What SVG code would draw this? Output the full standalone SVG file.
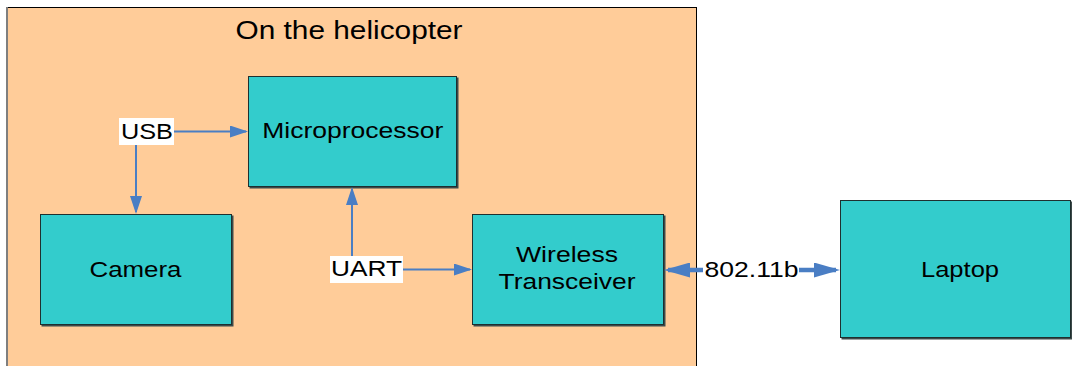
<svg xmlns="http://www.w3.org/2000/svg" width="1072" height="366" viewBox="0 0 1072 366">
  <style>
    text { font-family: "Liberation Sans", Arial, sans-serif; fill: #000; }
    .lbl { font-size: 22px; text-anchor: middle; }
    .title { font-size: 25px; text-anchor: middle; }
    .box { fill: #33CCCC; stroke: #1f2f2f; stroke-width: 1; }
    .shadow { fill: #3c4a4a; }
    .tag { fill: #fff; }
    .wire { stroke: #4A7EC4; stroke-width: 2; fill: none; marker-end: url(#head); }
    .link { stroke: #4A7EC4; stroke-width: 4.5; fill: none; marker-end: url(#bighead); }
  </style>
  <defs>
    <marker id="head" markerUnits="userSpaceOnUse" markerWidth="18" markerHeight="12" refX="16" refY="6" orient="auto">
      <path d="M0,0 L18,6 L0,12 z" fill="#4A7EC4"/>
    </marker>
    <marker id="bighead" markerUnits="userSpaceOnUse" markerWidth="26" markerHeight="15" refX="22" refY="7.5" orient="auto">
      <path d="M0,0 L26,7.5 L0,15 z" fill="#4A7EC4"/>
    </marker>
  </defs>

  <rect width="1072" height="366" fill="#fff"/>

  <!-- container -->
  <g id="helicopter">
    <rect x="7" y="7" width="689" height="370" fill="#FFCC99"/>
    <line x1="7" y1="7.5" x2="696.5" y2="7.5" stroke="#000" stroke-width="1"/>
    <line x1="696.5" y1="7" x2="696.5" y2="366" stroke="#000" stroke-width="1"/>
    <line x1="7" y1="7" x2="7" y2="366" stroke="#7f7f7f" stroke-width="2"/>
    <text class="title" x="349" y="38.5" textLength="227" lengthAdjust="spacingAndGlyphs">On the helicopter</text>
  </g>

  <g id="microprocessor">
    <rect class="shadow" x="249.5" y="77.5" width="209" height="111"/>
    <rect class="box" x="248.5" y="76.5" width="208" height="110"/>
    <text class="lbl" x="352.8" y="138.3" textLength="181" lengthAdjust="spacingAndGlyphs">Microprocessor</text>
  </g>

  <g id="camera">
    <rect class="shadow" x="41.5" y="215.5" width="192" height="111"/>
    <rect class="box" x="40.5" y="214.5" width="191" height="110"/>
    <text class="lbl" x="135.5" y="276.7" textLength="92" lengthAdjust="spacingAndGlyphs">Camera</text>
  </g>

  <g id="transceiver">
    <rect class="shadow" x="473.5" y="215.5" width="192" height="111"/>
    <rect class="box" x="472.5" y="214.5" width="191" height="110"/>
    <text class="lbl" x="567" y="261.7" textLength="102" lengthAdjust="spacingAndGlyphs">Wireless</text>
    <text class="lbl" x="567" y="289.3" textLength="137" lengthAdjust="spacingAndGlyphs">Transceiver</text>
  </g>

  <g id="laptop">
    <rect class="shadow" x="841.5" y="201.5" width="231" height="138"/>
    <rect class="box" x="840.5" y="200.5" width="230" height="137"/>
    <text class="lbl" x="960" y="277.3" textLength="78" lengthAdjust="spacingAndGlyphs">Laptop</text>
  </g>

  <!-- connectors -->
  <g id="connectors">
    <!-- USB -->
    <path class="wire" d="M173,131.5 L246,131.5"/>
    <path class="wire" d="M136,145 L136,212"/>
    <rect class="tag" x="119" y="118" width="55" height="27"/>
    <text class="lbl" x="147" y="139.3" textLength="52" lengthAdjust="spacingAndGlyphs">USB</text>

    <!-- UART -->
    <path class="wire" d="M352,256 L352,189"/>
    <path class="wire" d="M403,269.5 L470,269.5"/>
    <rect class="tag" x="330" y="256" width="73" height="27"/>
    <text class="lbl" x="366.5" y="276" textLength="71" lengthAdjust="spacingAndGlyphs">UART</text>

    <!-- 802.11b -->
    <path class="link" d="M703,270 L668,270"/>
    <path class="link" d="M799,270 L836,270"/>
    <text class="lbl" x="751.5" y="276.7" textLength="94" lengthAdjust="spacingAndGlyphs">802.11b</text>
  </g>
</svg>
